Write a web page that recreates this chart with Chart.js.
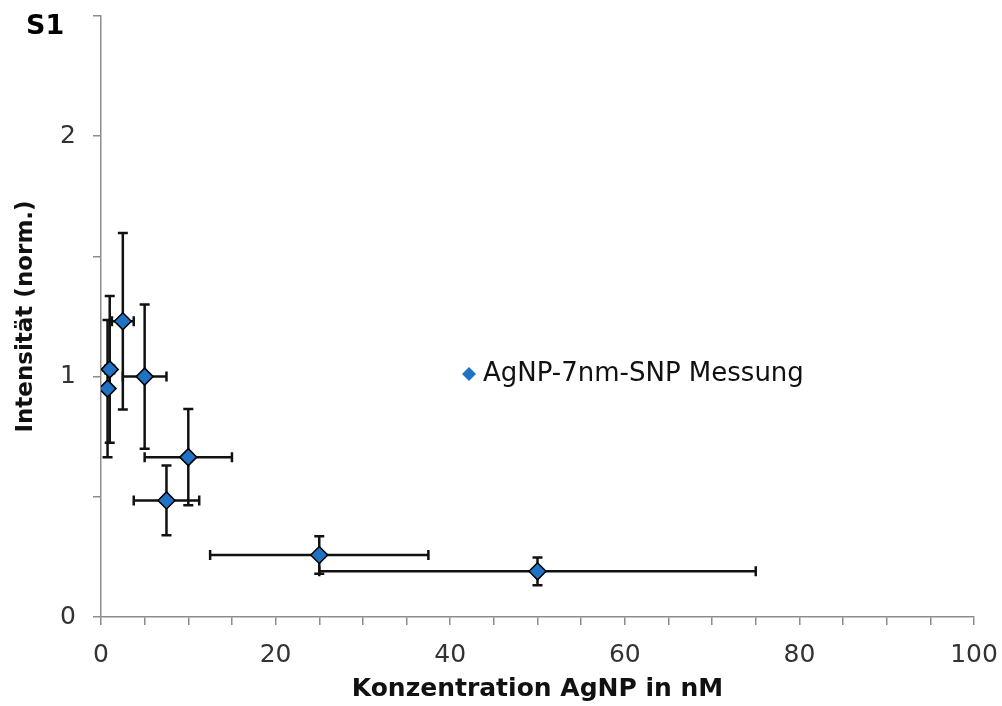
<!DOCTYPE html>
<html>
<head>
    <title>AgNP Konzentration</title>
    <style>
        body {
            margin: 0;
            padding: 0;
            background-color: #fff;
        }
        .container {
            width: 1002px;
            height: 706px;
            position: relative;
        }
    </style>
</head>
<body>
    <div class="container">
        <canvas id="chart" width="1002" height="706"></canvas>
    </div>

    <script src="https://cdn.jsdelivr.net/npm/chart.js"></script>
    <script>
        // Messwerte: Konzentration (nM), Intensitaet (norm.) und Fehler
        const konzentration = [0.75, 1, 2.5, 5, 7.5, 10, 25, 50];
        const intensitaet = [0.95, 1.03, 1.23, 1.0, 0.485, 0.665, 0.258, 0.19];
        const fehlerY = [0.285, 0.305, 0.367, 0.30, 0.145, 0.20, 0.078, 0.058];
        const fehlerX = [0.375, 0.5, 1.25, 2.5, 3.75, 5, 12.5, 25];
        const xTicks = [0, 20, 40, 60, 80, 100];
        const yTicks = [0, 1, 2];

        const seriesName = 'AgNP-7nm-SNP Messung';
        const fontFamily = '"DejaVu Sans", Verdana, sans-serif';
        const markerColor = '#1f72c4';
        const axisColor = '#8c8c8c';

        // Fehlerbalken hinter den Markern zeichnen
        const errorBars = {
            id: 'errorBars',
            beforeDatasetsDraw(chart) {
                const ctx = chart.ctx;
                const x = chart.scales.x;
                const y = chart.scales.y;
                const cap = 5;
                ctx.save();
                ctx.strokeStyle = '#111';
                ctx.lineWidth = 2.5;
                for (let i = 0; i < konzentration.length; i++) {
                    const px = x.getPixelForValue(konzentration[i]);
                    const py = y.getPixelForValue(intensitaet[i]);
                    const top = y.getPixelForValue(intensitaet[i] + fehlerY[i]);
                    const bottom = y.getPixelForValue(intensitaet[i] - fehlerY[i]);
                    const left = x.getPixelForValue(konzentration[i] - fehlerX[i]);
                    const right = x.getPixelForValue(konzentration[i] + fehlerX[i]);
                    ctx.beginPath();
                    ctx.moveTo(px, top); ctx.lineTo(px, bottom);
                    ctx.moveTo(px - cap, top); ctx.lineTo(px + cap, top);
                    ctx.moveTo(px - cap, bottom); ctx.lineTo(px + cap, bottom);
                    ctx.moveTo(left, py); ctx.lineTo(right, py);
                    ctx.moveTo(left, py - cap); ctx.lineTo(left, py + cap);
                    ctx.moveTo(right, py - cap); ctx.lineTo(right, py + cap);
                    ctx.stroke();
                }
                ctx.restore();
            }
        };

        // Legende im Diagramm und Panel-Bezeichnung
        const extras = {
            id: 'extras',
            afterDraw(chart) {
                const ctx = chart.ctx;
                ctx.save();
                ctx.fillStyle = '#000';
                ctx.font = 'bold 27px ' + fontFamily;
                ctx.textBaseline = 'middle';
                ctx.textAlign = 'left';
                ctx.fillText('S1', 26, 27);

                const lx = 469, ly = 374, r = 7;
                ctx.fillStyle = markerColor;
                ctx.beginPath();
                ctx.moveTo(lx, ly - r);
                ctx.lineTo(lx + r, ly);
                ctx.lineTo(lx, ly + r);
                ctx.lineTo(lx - r, ly);
                ctx.closePath();
                ctx.fill();

                ctx.fillStyle = '#111';
                ctx.font = '26px ' + fontFamily;
                ctx.fillText(chart.data.datasets[0].label, 483, ly);
                ctx.restore();
            }
        };

        const ctx = document.getElementById('chart').getContext('2d');
        new Chart(ctx, {
            type: 'scatter',
            data: {
                datasets: [{
                    label: seriesName,
                    data: konzentration.map((k, i) => ({ x: k, y: intensitaet[i] })),
                    pointStyle: 'rectRot',
                    pointRadius: 8.5,
                    pointHoverRadius: 8.5,
                    backgroundColor: markerColor,
                    borderColor: '#000',
                    borderWidth: 1.5
                }]
            },
            options: {
                responsive: false,
                animation: false,
                layout: {
                    padding: { top: 16, right: 28, left: 0, bottom: 0 }
                },
                plugins: {
                    legend: { display: false },
                    tooltip: { enabled: false }
                },
                scales: {
                    x: {
                        type: 'linear',
                        min: 0,
                        max: 100,
                        afterFit(scale) {
                            scale.height = 89;
                            scale.paddingLeft = 0;
                            scale.paddingRight = 0;
                        },
                        ticks: {
                            stepSize: 5,
                            autoSkip: false,
                            maxRotation: 0,
                            padding: 15,
                            color: '#333',
                            font: { family: fontFamily, size: 25 },
                            callback: v => xTicks.includes(v) ? String(v) : ''
                        },
                        grid: {
                            drawOnChartArea: false,
                            tickLength: 8,
                            color: axisColor,
                            lineWidth: 1.5
                        },
                        border: { color: axisColor, width: 1.5 },
                        title: {
                            display: true,
                            text: 'Konzentration AgNP in nM',
                            color: '#111',
                            font: { family: fontFamily, size: 25, weight: 'bold' },
                            padding: { top: 0, bottom: 2 }
                        }
                    },
                    y: {
                        min: 0,
                        max: 2.5,
                        afterFit(scale) {
                            scale.width = 101;
                            scale.paddingTop = 0;
                            scale.paddingBottom = 0;
                        },
                        ticks: {
                            stepSize: 0.5,
                            autoSkip: false,
                            padding: 17,
                            color: '#333',
                            font: { family: fontFamily, size: 25 },
                            callback: v => yTicks.includes(v) ? String(v) : ''
                        },
                        grid: {
                            drawOnChartArea: false,
                            tickLength: 8,
                            color: axisColor,
                            lineWidth: 1.5
                        },
                        border: { color: axisColor, width: 1.5 },
                        title: {
                            display: true,
                            text: 'Intensität (norm.)',
                            color: '#111',
                            font: { family: fontFamily, size: 23, weight: 'bold' },
                            padding: { top: 12, bottom: 0 }
                        }
                    }
                }
            },
            plugins: [errorBars, extras]
        });
    </script>
</body>
</html>
